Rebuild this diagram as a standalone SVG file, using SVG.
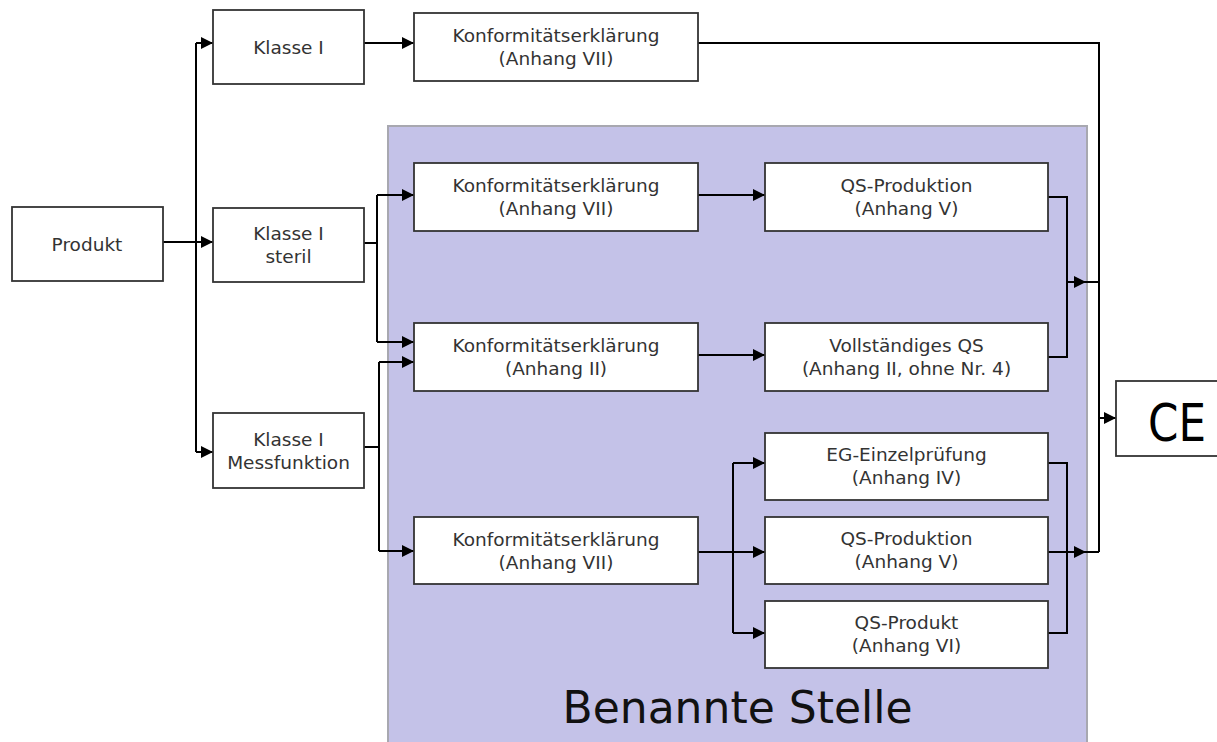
<svg xmlns="http://www.w3.org/2000/svg" width="1217" height="742" viewBox="0 0 1217 742">
<style>
.box{fill:#fff;stroke:#333;stroke-width:1.8}
.t{font-family:"DejaVu Sans","Liberation Sans",sans-serif;font-size:18.5px;fill:#333;text-anchor:middle}
.c{fill:none;stroke:#000;stroke-width:2}
.a{marker-end:url(#ah)}
</style>
<defs>
<marker id="ah" viewBox="0 0 10 10" refX="10" refY="5" markerWidth="12" markerHeight="13" markerUnits="userSpaceOnUse" orient="auto">
<path d="M0,0 L10,5 L0,10 z" fill="#000"/>
</marker>
</defs>
<rect id="benannte-stelle" x="388" y="126" width="699" height="630" fill="#c4c2e8" stroke="#a8a8b0" stroke-width="2"/>
<text x="737.5" y="723" style="font-family:'DejaVu Sans','Liberation Sans',sans-serif;font-size:44px;fill:#111;text-anchor:middle">Benannte Stelle</text>
<g id="connectors">
<path class="c a" d="M163,242 L213,242"/>
<path class="c" d="M196,43 L196,452"/>
<path class="c a" d="M196,43 L213,43"/>
<path class="c a" d="M196,452 L213,452"/>
<path class="c a" d="M364,43 L414,43"/>
<path class="c" d="M698,43 L1099,43 L1099,552"/>
<path class="c" d="M364,243 L377,243"/>
<path class="c" d="M377,195 L377,342"/>
<path class="c a" d="M377,195 L414,195"/>
<path class="c a" d="M377,342 L414,342"/>
<path class="c" d="M364,447 L379,447"/>
<path class="c" d="M379,362 L379,551"/>
<path class="c a" d="M379,362 L414,362"/>
<path class="c a" d="M379,551 L414,551"/>
<path class="c a" d="M698,195 L765,195"/>
<path class="c a" d="M698,355 L765,355"/>
<path class="c" d="M1048,197 L1067,197 L1067,357 L1048,357"/>
<path class="c a" d="M1067,282 L1086,282"/>
<path class="c" d="M1086,282 L1099,282"/>
<path class="c a" d="M698,552 L765,552"/>
<path class="c" d="M733,463 L733,633"/>
<path class="c a" d="M733,463 L765,463"/>
<path class="c a" d="M733,633 L765,633"/>
<path class="c" d="M1048,463 L1067,463 L1067,633 L1048,633"/>
<path class="c" d="M1048,552 L1067,552"/>
<path class="c a" d="M1067,552 L1086,552"/>
<path class="c" d="M1086,552 L1099,552"/>
<path class="c a" d="M1099,418 L1116,418"/>
</g>
<g id="produkt"><rect class="box" x="12" y="207" width="151" height="74"/><text class="t" x="87" y="251">Produkt</text></g>
<g id="klasse1"><rect class="box" x="213" y="10" width="151" height="74"/><text class="t" x="288.5" y="54">Klasse I</text></g>
<g id="klasse1-steril"><rect class="box" x="213" y="208" width="151" height="74"/><text class="t" x="288.5" y="240">Klasse I</text><text class="t" x="288.5" y="263">steril</text></g>
<g id="klasse1-mess"><rect class="box" x="213" y="413" width="151" height="75"/><text class="t" x="288.5" y="446">Klasse I</text><text class="t" x="288.5" y="469">Messfunktion</text></g>
<g id="konf-top"><rect class="box" x="414" y="13" width="284" height="68"/><text class="t" x="556" y="42">Konformitätserklärung</text><text class="t" x="556" y="65">(Anhang VII)</text></g>
<g id="konf-vii"><rect class="box" x="414" y="163" width="284" height="68"/><text class="t" x="556" y="192">Konformitätserklärung</text><text class="t" x="556" y="215">(Anhang VII)</text></g>
<g id="konf-ii"><rect class="box" x="414" y="323" width="284" height="68"/><text class="t" x="556" y="352">Konformitätserklärung</text><text class="t" x="556" y="375">(Anhang II)</text></g>
<g id="konf-vii-low"><rect class="box" x="414" y="517" width="284" height="67"/><text class="t" x="556" y="546">Konformitätserklärung</text><text class="t" x="556" y="569">(Anhang VII)</text></g>
<g id="qs-prod-top"><rect class="box" x="765" y="163" width="283" height="68"/><text class="t" x="906.5" y="192">QS-Produktion</text><text class="t" x="906.5" y="215">(Anhang V)</text></g>
<g id="voll-qs"><rect class="box" x="765" y="323" width="283" height="68"/><text class="t" x="906.5" y="352">Vollständiges QS</text><text class="t" x="906.5" y="375">(Anhang II, ohne Nr. 4)</text></g>
<g id="eg"><rect class="box" x="765" y="433" width="283" height="67"/><text class="t" x="906.5" y="461">EG-Einzelprüfung</text><text class="t" x="906.5" y="484">(Anhang IV)</text></g>
<g id="qs-prod-low"><rect class="box" x="765" y="517" width="283" height="67"/><text class="t" x="906.5" y="545">QS-Produktion</text><text class="t" x="906.5" y="568">(Anhang V)</text></g>
<g id="qs-produkt"><rect class="box" x="765" y="601" width="283" height="67"/><text class="t" x="906.5" y="629">QS-Produkt</text><text class="t" x="906.5" y="652">(Anhang VI)</text></g>
<g id="ce"><rect class="box" x="1116" y="381" width="120" height="75"/><text x="1148" y="441" textLength="58" lengthAdjust="spacingAndGlyphs" style="font-family:'DejaVu Sans','Liberation Sans',sans-serif;font-size:52px;fill:#000">CE</text></g>
</svg>
